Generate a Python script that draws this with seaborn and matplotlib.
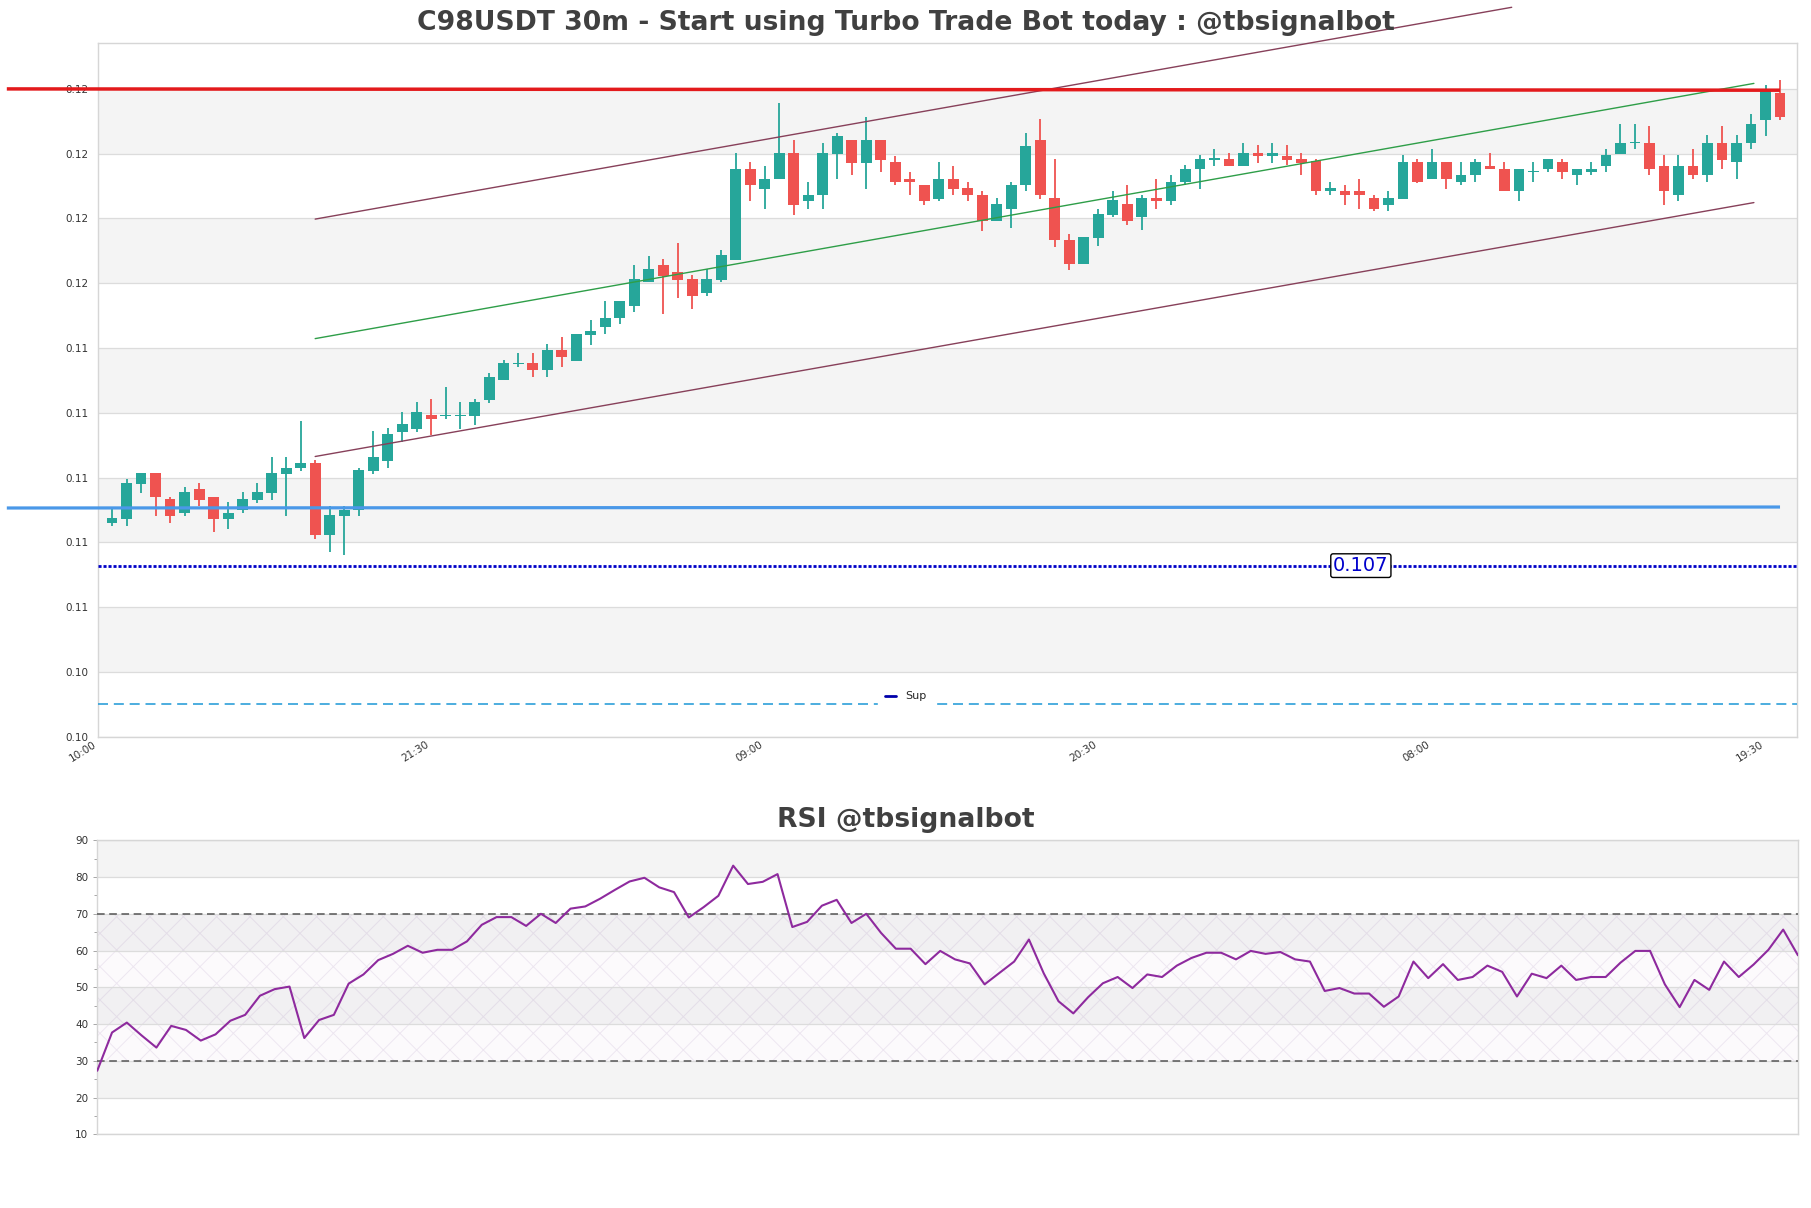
import numpy as np
import seaborn as sns
import matplotlib.pyplot as plt
from matplotlib.lines import Line2D
from matplotlib.ticker import MultipleLocator, FormatStrFormatter

# candles, 30m, 10:30 -> 20:00 (index 1..116)
opens = [0.10860, 0.10871, 0.10980, 0.11013, 0.10933, 0.10891, 0.10964, 0.10941, 0.10871, 0.10899,
         0.10931, 0.10953, 0.11011, 0.11030, 0.11044, 0.10823, 0.10881, 0.10900, 0.11021, 0.11051,
         0.11141, 0.11149, 0.11193, 0.11189, 0.11189, 0.11191, 0.11240, 0.11302, 0.11351, 0.11354,
         0.11333, 0.11394, 0.11361, 0.11441, 0.11464, 0.11492, 0.11531, 0.11603, 0.11655, 0.11634,
         0.11613, 0.11570, 0.11611, 0.11673, 0.11954, 0.11892, 0.11921, 0.12003, 0.11853, 0.11871,
         0.12000, 0.12043, 0.11972, 0.12043, 0.11975, 0.11923, 0.11904, 0.11861, 0.11923, 0.11895,
         0.11873, 0.11791, 0.11830, 0.11902, 0.12043, 0.11863, 0.11735, 0.11660, 0.11741, 0.11811,
         0.11845, 0.11804, 0.11863, 0.11853, 0.11912, 0.11952, 0.11982, 0.11985, 0.11962, 0.12003,
         0.11993, 0.11993, 0.11985, 0.11976, 0.11884, 0.11886, 0.11886, 0.11863, 0.11842, 0.11861,
         0.11974, 0.11921, 0.11974, 0.11912, 0.11933, 0.11962, 0.11954, 0.11884, 0.11943, 0.11954,
         0.11974, 0.11933, 0.11943, 0.11962, 0.12000, 0.12034, 0.12034, 0.11962, 0.11871, 0.11962,
         0.11933, 0.12034, 0.11974, 0.12032, 0.12103, 0.12186]
highs = [0.10902, 0.10995, 0.11013, 0.11013, 0.10941, 0.10972, 0.10982, 0.10941, 0.10923, 0.10954,
         0.10982, 0.11063, 0.11063, 0.11174, 0.11053, 0.10912, 0.10912, 0.11031, 0.11143, 0.11152,
         0.11201, 0.11232, 0.11242, 0.11281, 0.11232, 0.11242, 0.11323, 0.11364, 0.11385, 0.11385,
         0.11412, 0.11433, 0.11443, 0.11485, 0.11544, 0.11544, 0.11655, 0.11684, 0.11675, 0.11725,
         0.11624, 0.11644, 0.11704, 0.12003, 0.11974, 0.11962, 0.12155, 0.12043, 0.11912, 0.12034,
         0.12065, 0.12043, 0.12113, 0.12043, 0.11993, 0.11943, 0.11904, 0.11974, 0.11962, 0.11912,
         0.11884, 0.11863, 0.11912, 0.12065, 0.12106, 0.11985, 0.11753, 0.11742, 0.11830, 0.11884,
         0.11904, 0.11871, 0.11923, 0.11933, 0.11964, 0.11995, 0.12015, 0.12003, 0.12034, 0.12026,
         0.12034, 0.12026, 0.12003, 0.11985, 0.11914, 0.11904, 0.11923, 0.11871, 0.11884, 0.11995,
         0.11985, 0.12015, 0.11974, 0.11974, 0.11985, 0.12003, 0.11974, 0.11954, 0.11974, 0.11985,
         0.11985, 0.11954, 0.11974, 0.12015, 0.12093, 0.12093, 0.12085, 0.11995, 0.11995, 0.12015,
         0.12057, 0.12085, 0.12057, 0.12124, 0.12211, 0.12227]
lows = [0.10851, 0.10851, 0.10952, 0.10881, 0.10859, 0.10881, 0.10912, 0.10832, 0.10840, 0.10890,
        0.10921, 0.10930, 0.10881, 0.11021, 0.10811, 0.10770, 0.10760, 0.10881, 0.11010, 0.11030,
        0.11110, 0.11141, 0.11131, 0.11182, 0.11149, 0.11162, 0.11230, 0.11302, 0.11342, 0.11312,
        0.11312, 0.11342, 0.11361, 0.11410, 0.11443, 0.11474, 0.11512, 0.11603, 0.11504, 0.11554,
        0.11521, 0.11562, 0.11603, 0.11673, 0.11853, 0.11830, 0.11921, 0.11811, 0.11830, 0.11830,
        0.11921, 0.11933, 0.11892, 0.11943, 0.11902, 0.11871, 0.11842, 0.11853, 0.11871, 0.11853,
        0.11762, 0.11791, 0.11772, 0.11884, 0.11861, 0.11711, 0.11642, 0.11660, 0.11714, 0.11804,
        0.11780, 0.11763, 0.11830, 0.11842, 0.11902, 0.11892, 0.11962, 0.11962, 0.11962, 0.11972,
        0.11972, 0.11964, 0.11933, 0.11871, 0.11871, 0.11842, 0.11830, 0.11822, 0.11822, 0.11861,
        0.11910, 0.11921, 0.11892, 0.11902, 0.11912, 0.11952, 0.11884, 0.11853, 0.11912, 0.11943,
        0.11921, 0.11902, 0.11933, 0.11943, 0.12000, 0.12013, 0.11933, 0.11842, 0.11853, 0.11921,
        0.11912, 0.11952, 0.11921, 0.12013, 0.12055, 0.12103]
closes = [0.10874, 0.10982, 0.11013, 0.10940, 0.10881, 0.10955, 0.10931, 0.10871, 0.10892, 0.10933,
          0.10955, 0.11013, 0.11031, 0.11044, 0.10823, 0.10884, 0.10900, 0.11022, 0.11062, 0.11134,
          0.11165, 0.11201, 0.11180, 0.11191, 0.11191, 0.11232, 0.11312, 0.11354, 0.11355, 0.11333,
          0.11394, 0.11371, 0.11443, 0.11454, 0.11493, 0.11544, 0.11613, 0.11644, 0.11622, 0.11611,
          0.11562, 0.11613, 0.11686, 0.11954, 0.11902, 0.11923, 0.12003, 0.11842, 0.11873, 0.12003,
          0.12055, 0.11972, 0.12043, 0.11982, 0.11912, 0.11912, 0.11853, 0.11923, 0.11892, 0.11871,
          0.11791, 0.11845, 0.11904, 0.12024, 0.11871, 0.11732, 0.11660, 0.11742, 0.11814, 0.11856,
          0.11791, 0.11863, 0.11853, 0.11914, 0.11954, 0.11985, 0.11985, 0.11962, 0.12003, 0.11993,
          0.12003, 0.11982, 0.11972, 0.11884, 0.11895, 0.11871, 0.11871, 0.11830, 0.11863, 0.11974,
          0.11914, 0.11974, 0.11921, 0.11933, 0.11974, 0.11952, 0.11884, 0.11954, 0.11947, 0.11985,
          0.11943, 0.11954, 0.11954, 0.11995, 0.12034, 0.12037, 0.11952, 0.11884, 0.11962, 0.11933,
          0.12034, 0.11982, 0.12034, 0.12093, 0.12196, 0.12113]

rsi = [27.3, 37.7, 40.4, 36.9, 33.6, 39.5, 38.4, 35.5, 37.2, 40.9, 42.5, 47.7, 49.5, 50.2, 36.2,
       41.1, 42.5, 51.0, 53.5, 57.4, 59.1, 61.3, 59.4, 60.2, 60.2, 62.5, 67.0, 69.1, 69.1, 66.7,
       70.0, 67.5, 71.4, 72.0, 74.1, 76.5, 78.8, 79.8, 77.2, 75.9, 69.0, 71.8, 74.9, 83.1, 78.1,
       78.7, 80.8, 66.4, 67.8, 72.2, 73.8, 67.5, 70.0, 64.8, 60.5, 60.5, 56.3, 59.9, 57.6, 56.5,
       50.8, 53.9, 57.0, 63.0, 53.8, 46.2, 42.9, 47.3, 51.1, 52.8, 49.8, 53.5, 52.8, 55.9, 58.0,
       59.4, 59.4, 57.6, 59.9, 59.1, 59.6, 57.6, 57.0, 49.0, 49.8, 48.3, 48.3, 44.7, 47.5, 57.0,
       52.5, 56.3, 52.0, 52.8, 55.9, 54.2, 47.5, 53.7, 52.5, 55.9, 52.0, 52.8, 52.8, 56.7, 59.9,
       59.9, 50.8, 44.6, 52.0, 49.3, 57.0, 52.8, 56.2, 60.2, 65.7, 58.7]

tick_pos = [0, 23, 46, 69, 92, 115]
tick_labels = ['10:00', '21:30', '09:00', '20:30', '08:00', '19:30']

# levels / trend channel
res_x = [-6.26, 116.0]
res_y = [0.12200, 0.12196]
piv_x = [-6.26, 116.0]
piv_y = [0.10906, 0.10909]
sup_level = 0.10728
sup_low = 0.10300
chan_x = [15, 114.2]
chan_mid = [0.11429, 0.12217]
chan_low = [0.11065, 0.11849]
chan_up_x = [15, 97.5]
chan_up = [0.11798, 0.12452]

GREEN = '#26a69a'
RED = '#ef5350'
BAND = '#f4f4f4'
GRID = '#dcdcdc'
SPINE = '#d6d6d6'
TXT = '#404040'

sns.set_style("white")
plt.rcParams['font.family'] = ['DejaVu Sans']
plt.rcParams['hatch.linewidth'] = 0.7

fig = plt.figure(figsize=(18.11, 12.08), dpi=100)
ax = fig.add_axes([0.0539, 0.3902, 0.9386, 0.5740])
ax2 = fig.add_axes([0.0537, 0.0610, 0.9391, 0.2434])

# ---- main price panel
x = np.arange(1, len(opens) + 1)
o = np.array(opens)
c = np.array(closes)
up = c >= o
cols = np.where(up, GREEN, RED)
body_lo = np.minimum(o, c)
body_h = np.maximum(np.abs(c - o), 0.000035)

ax.vlines(x, lows, highs, colors=cols, lw=1.3, zorder=3)
ax.bar(x, body_h, bottom=body_lo, width=0.74, color=cols, zorder=3.5, linewidth=0)

yt = np.arange(0.102, 0.1225, 0.002)
for k in range(len(yt) - 1):
    if (len(yt) - 2 - k) % 2 == 0:
        ax.axhspan(yt[k], yt[k + 1], color=BAND, zorder=0, lw=0)
ax.set_yticks(yt)
ax.yaxis.set_major_formatter(FormatStrFormatter('%.2f'))
ax.grid(axis='y', color=GRID, lw=0.9, zorder=0.5)
ax.set_axisbelow(True)

ax.plot(res_x, res_y, color='#e31a1c', lw=2.5, zorder=5, clip_on=False, solid_capstyle='butt')
ax.plot(piv_x, piv_y, color='#4a98e8', lw=2.3, zorder=5, clip_on=False, solid_capstyle='butt')
ax.axhline(sup_level, color='#0000c8', lw=2.0, ls=(0, (1.1, 0.7)), zorder=4)
ax.axhline(sup_low, color='#2e9fd9', lw=1.2, ls=(0, (6, 3.5)), zorder=4)

ax.plot(chan_x, chan_mid, color='#2e9e48', lw=1.0, zorder=4)
ax.plot(chan_x, chan_low, color='#87405a', lw=1.0, zorder=4)
ax.plot(chan_up_x, chan_up, color='#87405a', lw=1.0, zorder=4, clip_on=False)

ax.text(87.1, sup_level, '0.107', color='#0000cc', fontsize=14, ha='center', va='center', zorder=6,
        bbox=dict(boxstyle='round,pad=0.12', fc='white', ec='black', lw=1))

ax.set_xlim(0, 117.2)
ax.set_ylim(0.102, 0.12341)
ax.set_xticks(tick_pos)
ax.set_xticklabels(tick_labels, rotation=32, ha='right')
ax.tick_params(axis='both', labelsize=7.5, labelcolor='#333333', color='#999999', length=3, width=0.6)
ax.tick_params(axis='x', length=0, pad=2)
for s in ax.spines.values():
    s.set_color(SPINE)
    s.set_linewidth(1)

sup_handle = Line2D([0], [0], color='#0000aa', lw=2)
ax.legend([sup_handle], ['Sup'], loc='center', bbox_to_anchor=(0.5, 0.4235),
          bbox_transform=fig.transFigure, fontsize=8, handlelength=1.0, handletextpad=0.8,
          frameon=True, framealpha=1, edgecolor='white', facecolor='white', borderpad=0.6)

fig.text(0.5, 1 - 23 / 1208, 'C98USDT 30m - Start using Turbo Trade Bot today : @tbsignalbot',
         ha='center', va='center', fontsize=19.2, fontweight='bold', color=TXT)

# ---- RSI panel
for lo in [20, 40, 60, 80]:
    ax2.axhspan(lo, lo + 10, color=BAND, zorder=0, lw=0)
ax2.axhspan(30, 70, facecolor=(0.55, 0.3, 0.65, 0.025), edgecolor=(0.55, 0.4, 0.65, 0.13),
            hatch='x', lw=0, zorder=0.3)
sns.lineplot(x=np.arange(len(rsi)), y=rsi, ax=ax2, color='#8e2a9e', lw=1.5, zorder=4)
ax2.axhline(70, color='#555555', lw=1.1, ls=(0, (5, 3)), zorder=3)
ax2.axhline(30, color='#555555', lw=1.1, ls=(0, (5, 3)), zorder=3)

ax2.set_xlim(0, len(rsi) - 1)
ax2.set_ylim(10, 90)
ax2.set_yticks(range(10, 91, 10))
ax2.yaxis.set_minor_locator(MultipleLocator(5))
ax2.set_xticks([])
ax2.grid(axis='y', which='major', color=GRID, lw=0.9, zorder=0.5)
ax2.set_axisbelow(True)
ax2.tick_params(axis='y', which='major', labelsize=7.5, labelcolor='#333333', color='#999999',
                length=3, width=0.6, left=True)
ax2.tick_params(axis='y', which='minor', color='#999999', length=2, width=0.6, left=True)
for s in ax2.spines.values():
    s.set_color(SPINE)
    s.set_linewidth(1)

fig.text(0.5, 1 - 820 / 1208, 'RSI @tbsignalbot', ha='center', va='center',
         fontsize=19.2, fontweight='bold', color=TXT)

fig.savefig('out.png', dpi=100)
